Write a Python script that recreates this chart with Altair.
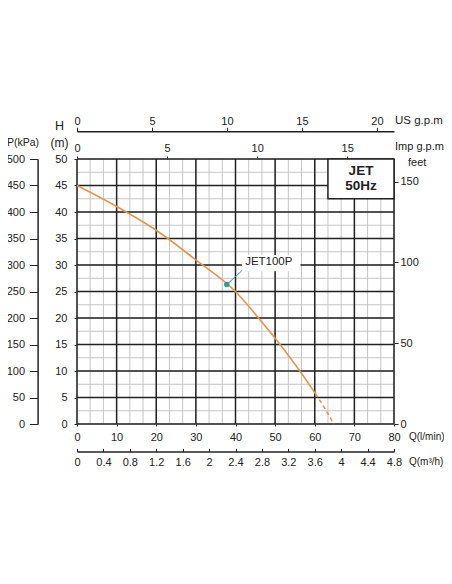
import altair as alt
import pandas as pd

FONT = "Liberation Sans"
INK = "#222222"
MINOR = "#c6c6c6"
CURVE = "#e8954b"
TEAL = "#2a9d8f"

# JET100P curve: Q in l/min, H in m
flow_solid = [0, 10, 20, 30, 40, 45.8, 51.25, 56.25, 60.2]
head_solid = [45, 41.05, 36.55, 30.95, 25, 20, 15, 10, 5.7]
flow_dash = [60.2, 62.5, 64.8]
head_dash = [5.7, 3.0, 0]

duty_flow = [37.8]
duty_head = [26.3]

q_ticks = [0, 10, 20, 30, 40, 50, 60, 70, 80]
h_ticks = [0, 5, 10, 15, 20, 25, 30, 35, 40, 45, 50]
m3h_ticks = [0, 0.4, 0.8, 1.2, 1.6, 2, 2.4, 2.8, 3.2, 3.6, 4, 4.4, 4.8]
usgpm_ticks = [0, 5, 10, 15, 20]
impgpm_ticks = [0, 5, 10, 15]
feet_ticks = [0, 50, 100, 150]
kpa_ticks = [0, 50, 100, 150, 200, 250, 300, 350, 400, 450, 500]

# light grid every 0.2 m3/h and 2.5 m, dark grid every 10 l/min and 5 m
minor_q = [i * 10 / 3 for i in range(25)]
minor_h = [i * 2.5 for i in range(21)]

Q_MAX, H_MAX = 80, 50
US_GAL, IMP_GAL, FOOT = 3.785411784, 4.54609, 0.3048

W, H = 317, 265

xs = alt.Scale(domain=[0, Q_MAX], nice=False, zero=False)
ys = alt.Scale(domain=[0, H_MAX], nice=False, zero=False)

axis_style = dict(
    title=None, grid=False, labelFontSize=11, labelColor=INK, labelFont=FONT,
    tickColor=INK, domainColor=INK, labelFlush=False, labelOverlap=False,
)

# same axis objects on every inner layer so Vega-Lite merges them into one
q_axis = alt.Axis(orient="bottom", values=q_ticks, tickSize=2, labelPadding=5,
                  domain=False, **axis_style)
h_axis = alt.Axis(orient="left", values=h_ticks, tickSize=3, labelPadding=7,
                  domain=False, **axis_style)


def qx(field):
    return alt.X(field, scale=xs, axis=q_axis)


def hy(field):
    return alt.Y(field, scale=ys, axis=h_axis)


def note(text, x, y, size=11, align="left", weight="normal"):
    return (
        alt.Chart(pd.DataFrame({"t": [text]}))
        .mark_text(align=align, baseline="middle", fontSize=size,
                   fontWeight=weight, font=FONT, color=INK)
        .encode(text="t:N", x=alt.value(x), y=alt.value(y))
    )


minor_v = alt.Chart(pd.DataFrame({"q": minor_q})).mark_rule(
    color=MINOR, strokeWidth=1).encode(x=qx("q:Q"))
minor_hz = alt.Chart(pd.DataFrame({"h": minor_h})).mark_rule(
    color=MINOR, strokeWidth=1).encode(y=hy("h:Q"))
major_v = alt.Chart(pd.DataFrame({"q": q_ticks})).mark_rule(
    color=INK, strokeWidth=1.5).encode(x=qx("q:Q"))
major_hz = alt.Chart(pd.DataFrame({"h": h_ticks})).mark_rule(
    color=INK, strokeWidth=1.5).encode(y=hy("h:Q"))

# model box in the top-right corner
box = alt.Chart(pd.DataFrame({"q0": [63.33], "q1": [80], "h0": [42.5], "h1": [50]})).mark_rect(
    fill="white", stroke=INK, strokeWidth=1.5
).encode(x=qx("q0:Q"), x2="q1:Q", y=hy("h0:Q"), y2="h1:Q")
box_text = alt.Chart(pd.DataFrame({"q": [71.67, 71.67], "h": [47.65, 44.95], "t": ["JET", "50Hz"]})).mark_text(
    fontSize=13.5, fontWeight="bold", font=FONT, color=INK, align="center", baseline="middle"
).encode(x=qx("q:Q"), y=hy("h:Q"), text="t:N")

solid = alt.Chart(pd.DataFrame({"q": flow_solid, "h": head_solid})).mark_line(
    color=CURVE, strokeWidth=1.6, interpolate="monotone"
).encode(x=qx("q:Q"), y=hy("h:Q"))
dashed = alt.Chart(pd.DataFrame({"q": flow_dash, "h": head_dash})).mark_line(
    color=CURVE, strokeWidth=1.6, strokeDash=[4, 3], interpolate="monotone"
).encode(x=qx("q:Q"), y=hy("h:Q"))

# curve label with its leader line
leader = alt.Chart(pd.DataFrame({"q0": duty_flow, "h0": duty_head, "q1": [41.7], "h1": [29.0]})).mark_rule(
    color=TEAL, strokeWidth=1
).encode(x=qx("q0:Q"), y=hy("h0:Q"), x2="q1:Q", y2="h1:Q")
dot = alt.Chart(pd.DataFrame({"q": duty_flow, "h": duty_head})).mark_point(
    filled=True, color=TEAL, size=30, opacity=1
).encode(x=qx("q:Q"), y=hy("h:Q"))
tag_bg = alt.Chart(pd.DataFrame({"q0": [41.6], "q1": [56.4], "h0": [28.8], "h1": [31.9]})).mark_rect(
    fill="white"
).encode(x=qx("q0:Q"), x2="q1:Q", y=hy("h0:Q"), y2="h1:Q")
tag = alt.Chart(pd.DataFrame({"q": [48.4], "h": [30.5], "t": ["JET100P"]})).mark_text(
    fontSize=11.5, font=FONT, color=INK, align="center", baseline="middle"
).encode(x=qx("q:Q"), y=hy("h:Q"), text="t:N")

texts = [
    note("H", -17.5, -33, size=12.5, align="center"),
    note("(m)", -17.5, -16, size=12, align="center"),
    note("P(kPa)", -54, -16, size=10.5, align="center"),
    note("US g.p.m", 318, -38, size=11.5),
    note("Imp g.p.m", 318, -12.5, size=11),
    note("feet", 331, 4, size=11),
    note("Q(l/min)", 332, 278, size=10),
    note("Q(m³/h)", 332, 302.5, size=10),
]

plot = alt.layer(
    minor_v, minor_hz, major_v, major_hz, box, box_text,
    solid, dashed, tag_bg, leader, dot, tag, *texts,
)


def x_axis(domain_max, **kw):
    return alt.Chart(pd.DataFrame({"v": [0]})).mark_point(opacity=0).encode(
        x=alt.X("v:Q", scale=alt.Scale(domain=[0, domain_max], nice=False, zero=False),
                axis=alt.Axis(**kw, **axis_style))
    )


def y_axis(domain_max, **kw):
    return alt.Chart(pd.DataFrame({"v": [0]})).mark_point(opacity=0).encode(
        y=alt.Y("v:Q", scale=alt.Scale(domain=[0, domain_max], nice=False, zero=False),
                axis=alt.Axis(**kw, **axis_style))
    )


usgpm = x_axis(Q_MAX / US_GAL, orient="top", offset=27.7, values=usgpm_ticks,
               tickSize=4, labelPadding=1, domain=True, domainWidth=1.5)
impgpm = x_axis(Q_MAX / IMP_GAL, orient="top", offset=0, values=impgpm_ticks,
                tickSize=3, labelPadding=3, domain=False)
m3h_ticks_only = x_axis(Q_MAX * 0.06, orient="bottom", offset=24.4, values=m3h_ticks,
                        tickSize=3, labels=False, domain=False)
m3h = x_axis(Q_MAX * 0.06, orient="bottom", offset=27.4, values=m3h_ticks, ticks=False,
             labelPadding=5, format="~g", domain=True, domainWidth=1.5)
kpa = y_axis(H_MAX * 10, orient="left", offset=39.4, values=kpa_ticks,
             tickSize=8, labelPadding=5, domain=True, domainWidth=1.5)
feet = y_axis(H_MAX / FOOT, orient="right", offset=0, values=feet_ticks,
              tickSize=4, labelPadding=2, domain=False)

chart = (
    alt.layer(plot, usgpm, impgpm, m3h_ticks_only, m3h, kpa, feet)
    .resolve_scale(x="independent", y="independent")
    .properties(
        width=W, height=H,
        autosize=alt.AutoSizeParams(type="none"),
        padding={"left": 69, "top": 151, "right": 50, "bottom": 60},
    )
    .configure(font=FONT)
    .configure_view(stroke=None)
)

chart.save("out.html", embed_options={"renderer": "svg", "actions": False})
